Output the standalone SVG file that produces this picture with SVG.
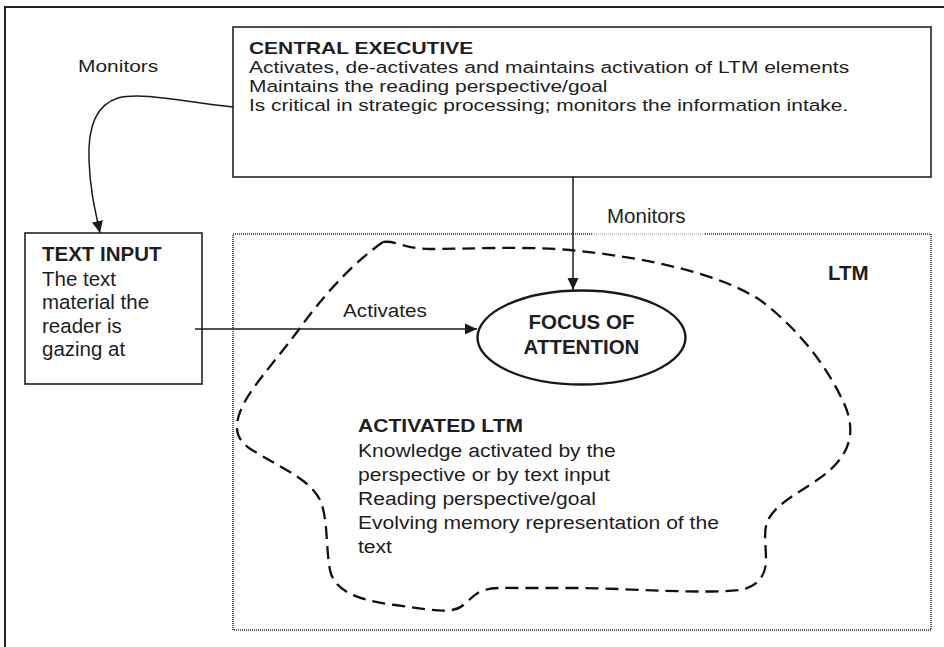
<svg xmlns="http://www.w3.org/2000/svg" width="944" height="647" viewBox="0 0 944 647">
  <style>
    .frame { fill: none; stroke: #222; stroke-width: 2; }
    .box { fill: #fff; stroke: #222; stroke-width: 1.6; }
    .dotted { fill: none; stroke: #333; stroke-width: 1.6; stroke-dasharray: 1 1; }
    .dotted-light { fill: none; stroke: #999; stroke-width: 1.2; stroke-dasharray: 1 1; }
    .blob { fill: none; stroke: #111; stroke-width: 2.3; stroke-dasharray: 13 7; }
    .conn { fill: none; stroke: #1a1a1a; stroke-width: 1.5; }
    text { font-family: "Liberation Sans", Arial, sans-serif; fill: #1e1e1e; }
    .t17 { font-size: 16.5px; }
    .b17 { font-size: 16.5px; font-weight: bold; }
    .t20 { font-size: 20.5px; }
    .b20 { font-size: 20.5px; font-weight: bold; }
    .t19 { font-size: 19px; }
    .b19 { font-size: 19px; font-weight: bold; }
  </style>
  <defs>
    <marker id="arrow" viewBox="0 0 12 12" refX="12" refY="6" markerWidth="12" markerHeight="12" markerUnits="userSpaceOnUse" orient="auto">
      <path d="M0,0.5 L12,6 L0,11.5 z" fill="#1a1a1a"/>
    </marker>
  </defs>

  <rect width="944" height="647" fill="#fff"/>

  <!-- outer frame (open at right and bottom) -->
  <path class="frame" d="M5,650 L5,7 L950,7"/>

  <!-- long-term memory region -->
  <g id="ltm">
    <path class="dotted" d="M592,234 L233,234 L233,630 L931,630 L931,234 L705,234"/>
    <path class="dotted-light" d="M592,234 L705,234"/>
    <text class="b20" x="828" y="280">LTM</text>
  </g>

  <!-- activated part of LTM -->
  <g id="activated-ltm">
    <path class="blob" d="M383,242 C350,265 320,300 300,328 C275,362 248,390 240,412 C234,428 236,440 252,450 C285,470 315,482 322,505 C328,525 326,550 330,570 C334,590 355,600 395,605 C430,610 452,614 462,606 C470,600 474,594 482,591 C492,587 502,588 520,588 L583,588 C640,589 700,594 740,590 C758,587 766,575 766,560 C766,545 763,530 768,520 C778,500 810,488 830,470 C850,452 855,432 846,408 C830,370 800,330 760,300 C720,274 650,258 570,250 C520,246 470,249 430,249 C405,249 395,240 383,242 Z"/>
    <text class="b19" transform="translate(358,432) scale(1.11,1)">ACTIVATED LTM</text>
    <text class="t19" transform="translate(358,457) scale(1.11,1)">Knowledge activated by the</text>
    <text class="t19" transform="translate(358,481) scale(1.11,1)">perspective or by text input</text>
    <text class="t19" transform="translate(358,505) scale(1.11,1)">Reading perspective/goal</text>
    <text class="t19" transform="translate(358,529) scale(1.11,1)">Evolving memory representation of the</text>
    <text class="t19" transform="translate(358,553) scale(1.11,1)">text</text>
  </g>

  <!-- central executive -->
  <g id="central-executive">
    <rect class="box" x="233" y="27" width="698" height="150"/>
    <text class="b17" transform="translate(249,54) scale(1.27,1)">CENTRAL EXECUTIVE</text>
    <text class="t17" transform="translate(249,73) scale(1.27,1)">Activates, de-activates and maintains activation of LTM elements</text>
    <text class="t17" transform="translate(249,92) scale(1.27,1)">Maintains the reading perspective/goal</text>
    <text class="t17" transform="translate(249,111) scale(1.27,1)">Is critical in strategic processing; monitors the information intake.</text>
  </g>

  <!-- text input -->
  <g id="text-input">
    <rect class="box" x="25" y="233" width="177" height="151"/>
    <text class="b20" x="42" y="261">TEXT INPUT</text>
    <text class="t20" x="42" y="286">The text</text>
    <text class="t20" x="42" y="309">material the</text>
    <text class="t20" x="42" y="333">reader is</text>
    <text class="t20" x="42" y="356">gazing at</text>
  </g>

  <!-- focus of attention -->
  <g id="focus-of-attention">
    <ellipse cx="581.5" cy="337.5" rx="104" ry="47" fill="#fff" stroke="#1a1a1a" stroke-width="2.4"/>
    <text class="b20" x="581.5" y="329" text-anchor="middle">FOCUS OF</text>
    <text class="b20" x="581.5" y="354" text-anchor="middle">ATTENTION</text>
  </g>

  <!-- connectors -->
  <g id="connectors">
    <path class="conn" marker-end="url(#arrow)" d="M233,107 C180,101 140,92 118,98 C92,106 88,135 89,160 C90,190 95,210 100,233"/>
    <path class="conn" marker-end="url(#arrow)" d="M573,177 L573,290"/>
    <path class="conn" marker-end="url(#arrow)" d="M195,329 L477,329"/>
    <text class="t17" transform="translate(78,72) scale(1.27,1)">Monitors</text>
    <text class="t20" x="607" y="223">Monitors</text>
    <text class="t19" transform="translate(343,317) scale(1.09,1)">Activates</text>
  </g>
</svg>
